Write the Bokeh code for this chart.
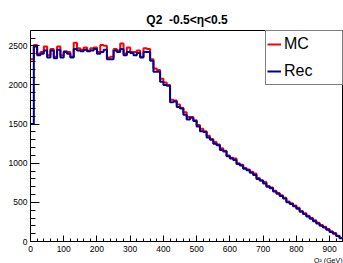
from bokeh.plotting import figure
from bokeh.models import Range1d, FixedTicker, Legend, LegendItem, Title
from bokeh.embed import file_html
from bokeh.resources import INLINE

# bin lower edges (GeV^2), bin width 10
bin_low = list(range(0, 940, 10))
bin_width = 10

rec = [1500, 2490, 2380, 2400, 2440, 2350, 2440, 2340, 2450, 2350,
       2420, 2400, 2350, 2460, 2440, 2430, 2450, 2430, 2440, 2460,
       2400, 2420, 2450, 2330, 2330, 2440, 2420, 2460, 2380, 2420,
       2410, 2380, 2410, 2350, 2420, 2420, 2310, 2170, 2170, 2040,
       2000, 1990, 1780, 1790, 1720, 1700, 1620, 1560, 1580, 1540,
       1470, 1410, 1400, 1330, 1300, 1250, 1230, 1170, 1150, 1090,
       1060, 1040, 990, 970, 930, 910, 880, 850, 800, 780,
       740, 700, 680, 640, 610, 580, 550, 500, 480, 450,
       420, 380, 350, 320, 290, 260, 230, 200, 180, 150,
       120, 100, 70, 40]

mc = [2330, 2510, 2400, 2420, 2490, 2380, 2460, 2360, 2490, 2380,
      2430, 2420, 2360, 2540, 2470, 2450, 2480, 2440, 2470, 2480,
      2420, 2510, 2500, 2350, 2360, 2460, 2440, 2530, 2400, 2480,
      2420, 2420, 2440, 2360, 2470, 2460, 2330, 2210, 2190, 2080,
      2030, 2000, 1810, 1800, 1750, 1710, 1650, 1590, 1590, 1550,
      1490, 1440, 1410, 1350, 1310, 1270, 1240, 1190, 1160, 1100,
      1070, 1060, 1000, 980, 940, 920, 890, 870, 810, 780,
      760, 710, 690, 650, 620, 590, 560, 510, 490, 460,
      430, 390, 360, 330, 300, 270, 240, 210, 190, 160,
      130, 110, 75, 45]

x_ticks = [0, 100, 200, 300, 400, 500, 600, 700, 800, 900]
y_ticks = [0, 500, 1000, 1500, 2000, 2500]
title_text = "Q2\u00a0 -0.5<\u03b7<0.5"
x_title = "Q\u00b2 (GeV)"

xs = bin_low + [bin_low[-1] + bin_width]
mc_y = mc + [mc[-1]]
rec_y = rec + [rec[-1]]

FONT = "Liberation Sans"

p = figure(width=343, height=263, output_backend="svg", toolbar_location=None,
           x_range=Range1d(0, 942), y_range=Range1d(0, 2696),
           min_border_left=30, min_border_right=0, min_border_top=30, min_border_bottom=20,
           title=title_text)
p.title.align = "center"
p.title.text_font = FONT
p.title.text_font_size = "12px"
p.title.text_font_style = "bold"
p.title.text_color = "black"
p.title.standoff = 8

p.xgrid.visible = False
p.ygrid.visible = False
p.outline_line_color = "black"
p.outline_line_width = 1
p.background_fill_color = "white"
p.border_fill_color = "white"

p.xaxis.ticker = FixedTicker(ticks=x_ticks, minor_ticks=list(range(0, 941, 20)))
p.yaxis.ticker = FixedTicker(ticks=y_ticks, minor_ticks=list(range(0, 2701, 100)))
for ax in (p.xaxis[0], p.yaxis[0]):
    ax.major_tick_out = 0
    ax.minor_tick_out = 0
    ax.axis_line_color = "black"
    ax.major_tick_line_color = "black"
    ax.minor_tick_line_color = "black"
    ax.major_label_text_font = FONT
    ax.major_label_text_font_size = "8.5px"
    ax.major_label_text_color = "black"
p.yaxis.major_tick_in = 9
p.yaxis.minor_tick_in = 5
p.xaxis.major_tick_in = 6
p.xaxis.minor_tick_in = 3
p.yaxis.major_label_standoff = 3
p.xaxis.major_label_standoff = 4

xt = Title(text=x_title, align="right", text_font=FONT, text_font_size="7px",
           text_font_style="normal", text_color="black", standoff=0, offset=1)
p.add_layout(xt, "below")

r_mc = p.step(xs, mc_y, mode="after", line_color="#ff0000", line_width=2)
r_rec = p.step(xs, rec_y, mode="after", line_color="#000099", line_width=2)

legend = Legend(items=[LegendItem(label="MC", renderers=[r_mc]),
                       LegendItem(label="Rec", renderers=[r_rec])],
                location="top_right", margin=0, padding=1, spacing=3,
                glyph_width=14, glyph_height=24, label_height=24, label_width=57,
                label_standoff=3,
                label_text_font=FONT, label_text_font_size="16px",
                label_text_color="black",
                border_line_color="black", border_line_width=1,
                background_fill_alpha=1.0)
p.add_layout(legend)

open("out.html", "w").write(file_html(p, INLINE))
